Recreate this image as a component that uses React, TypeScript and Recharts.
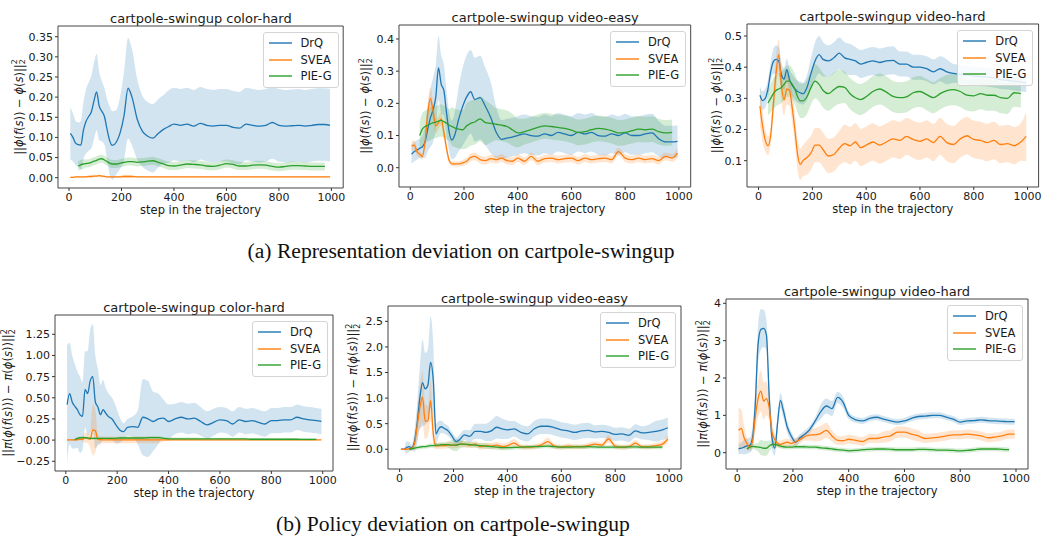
import { Area, ComposedChart, Label, Legend, Line, ReferenceArea, XAxis, YAxis } from "recharts"

type Num = number | null

// sampled steps along the trajectory (finer at the start where the curves move a lot)
const steps = [
  5, 15, 25, 35, 45, 55,
  65, 75, 85, 95, 105, 115, 125, 135, 145, 155, 165,
  180, 195, 210, 225, 240,
  260, 280, 300, 320, 340, 360, 380, 400,
  425, 450, 475, 500, 525, 550, 575, 600, 625, 650, 675, 700,
  725, 750, 775, 800, 825, 850, 875, 900, 925, 950, 975, 995,
]
const xTicks = [0, 200, 400, 600, 800, 1000]

// ---- (a) representation deviation, color-hard
const repColorDrq: Num[] = [
  0.11, 0.1, 0.086, 0.082, 0.081, 0.118,
  0.14, 0.152, 0.163, 0.19, 0.213, 0.178, 0.165, 0.152, 0.12, 0.092, 0.08,
  0.088, 0.112, 0.155, 0.222, 0.2,
  0.145, 0.115, 0.103, 0.098, 0.11, 0.12, 0.127, 0.133,
  0.13, 0.133, 0.128, 0.135, 0.13, 0.128, 0.13, 0.13, 0.125, 0.123, 0.133, 0.13,
  0.128, 0.13, 0.137, 0.13, 0.128, 0.129, 0.13, 0.128, 0.13, 0.132, 0.132, 0.13,
]
const repColorDrqSd: Num[] = [
  0.065, 0.06, 0.055, 0.055, 0.06, 0.07,
  0.08, 0.085, 0.09, 0.095, 0.095, 0.085, 0.075, 0.07, 0.075, 0.085, 0.085,
  0.08, 0.09, 0.11, 0.125, 0.12,
  0.1, 0.088, 0.085, 0.085, 0.085, 0.085, 0.09, 0.09,
  0.09, 0.09, 0.09, 0.09, 0.09, 0.09, 0.09, 0.09, 0.09, 0.09, 0.09, 0.09,
  0.09, 0.09, 0.09, 0.09, 0.09, 0.09, 0.09, 0.09, 0.09, 0.09, 0.09, 0.09,
]
const repColorSvea: Num[] = [
  0.001, 0.001, 0.002, 0.002, 0.002, 0.002,
  0.002, 0.003, 0.003, 0.004, 0.004, 0.005, 0.004, 0.003, 0.002, 0.002, 0.002,
  0.002, 0.002, 0.003, 0.003, 0.003,
  0.002, 0.002, 0.002, 0.002, 0.002, 0.002, 0.002, 0.002,
  0.002, 0.002, 0.002, 0.002, 0.002, 0.002, 0.002, 0.002, 0.002, 0.002, 0.002, 0.002,
  0.002, 0.002, 0.002, 0.002, 0.002, 0.002, 0.002, 0.002, 0.002, 0.002, 0.002, 0.002,
]
const repColorSveaSd: Num[] = [
  0.002, 0.002, 0.002, 0.002, 0.002, 0.002,
  0.002, 0.002, 0.003, 0.003, 0.003, 0.003, 0.003, 0.002, 0.002, 0.002, 0.002,
  0.002, 0.003, 0.004, 0.004, 0.003,
  0.0015, 0.0015, 0.0015, 0.0015, 0.0015, 0.0015, 0.0015, 0.0015,
  0.0015, 0.0015, 0.0015, 0.0015, 0.0015, 0.0015, 0.0015, 0.0015, 0.0015, 0.0015, 0.0015, 0.0015,
  0.0015, 0.0015, 0.0015, 0.0015, 0.0015, 0.0015, 0.0015, 0.0015, 0.0015, 0.0015, 0.0015, 0.0015,
]
const repColorPieg: Num[] = [
  null, null, null, 0.029, 0.032, 0.034,
  0.035, 0.036, 0.038, 0.041, 0.043, 0.046, 0.047, 0.044, 0.04, 0.036, 0.034,
  0.034, 0.036, 0.038, 0.04, 0.04,
  0.038, 0.039, 0.041, 0.042, 0.038, 0.034, 0.03, 0.029,
  0.031, 0.034, 0.033, 0.032, 0.029, 0.028, 0.031, 0.035, 0.033, 0.029, 0.029, 0.031,
  0.032, 0.031, 0.028, 0.026, 0.028, 0.03, 0.03, 0.029, 0.028, 0.028, 0.028, null,
]
const repColorPiegSd: Num[] = [
  null, null, null, 0.012, 0.012, 0.012,
  0.01, 0.01, 0.01, 0.01, 0.01, 0.01, 0.01, 0.01, 0.01, 0.01, 0.01,
  0.01, 0.01, 0.01, 0.01, 0.01,
  0.01, 0.01, 0.01, 0.01, 0.01, 0.01, 0.01, 0.01,
  0.01, 0.01, 0.01, 0.01, 0.01, 0.01, 0.01, 0.01, 0.01, 0.01, 0.01, 0.01,
  0.01, 0.01, 0.01, 0.01, 0.01, 0.01, 0.01, 0.01, 0.01, 0.01, 0.01, null,
]

// ---- (a) representation deviation, video-easy
const repEasyDrq: Num[] = [
  0.042, 0.05, 0.055, 0.06, 0.065, 0.08,
  0.12, 0.155, 0.18, 0.22, 0.31, 0.26, 0.24, 0.17, 0.11, 0.086, 0.1,
  0.15, 0.19, 0.22, 0.236, 0.212,
  0.218, 0.19, 0.155, 0.11, 0.088, 0.092, 0.095, 0.1,
  0.105, 0.1, 0.098, 0.105, 0.1, 0.11, 0.105, 0.1, 0.11, 0.105, 0.11, 0.1,
  0.098, 0.105, 0.1, 0.108, 0.1, 0.1, 0.105, 0.108, 0.09, 0.08, 0.08, 0.082,
]
const repEasyDrqSd: Num[] = [
  0.03, 0.03, 0.03, 0.03, 0.035, 0.05,
  0.07, 0.09, 0.1, 0.1, 0.1, 0.09, 0.08, 0.07, 0.06, 0.06, 0.07,
  0.1, 0.12, 0.13, 0.13, 0.13,
  0.13, 0.12, 0.11, 0.08, 0.06, 0.06, 0.06, 0.06,
  0.06, 0.06, 0.06, 0.06, 0.06, 0.06, 0.06, 0.06, 0.06, 0.06, 0.06, 0.06,
  0.06, 0.06, 0.06, 0.06, 0.06, 0.06, 0.06, 0.06, 0.055, 0.05, 0.05, 0.05,
]
const repEasySvea: Num[] = [
  0.068, 0.07, 0.05, 0.042, 0.035, 0.08,
  0.17, 0.215, 0.175, 0.13, 0.14, 0.152, 0.11, 0.06, 0.022, 0.012, 0.012,
  0.012, 0.015, 0.02, 0.032, 0.035,
  0.025, 0.022, 0.028, 0.025, 0.03, 0.022, 0.02, 0.03,
  0.02, 0.035, 0.02, 0.028, 0.03, 0.025, 0.028, 0.03, 0.022, 0.03, 0.025, 0.028,
  0.03, 0.025, 0.05, 0.03, 0.025, 0.03, 0.025, 0.028, 0.022, 0.035, 0.03, 0.045,
]
const repEasySveaSd: Num[] = [
  0.015, 0.015, 0.012, 0.01, 0.01, 0.02,
  0.03, 0.035, 0.03, 0.025, 0.02, 0.02, 0.02, 0.015, 0.01, 0.008, 0.008,
  0.008, 0.01, 0.01, 0.012, 0.012,
  0.012, 0.012, 0.012, 0.012, 0.012, 0.012, 0.012, 0.012,
  0.012, 0.012, 0.012, 0.012, 0.012, 0.012, 0.012, 0.012, 0.012, 0.012, 0.012, 0.012,
  0.012, 0.012, 0.012, 0.012, 0.012, 0.012, 0.012, 0.012, 0.012, 0.012, 0.012, 0.015,
]
const repEasyPieg: Num[] = [
  null, null, null, 0.1, 0.12, 0.128,
  0.132, 0.136, 0.14, 0.142, 0.145, 0.147, 0.143, 0.138, 0.132, 0.128, 0.124,
  0.12, 0.118, 0.13, 0.138, 0.142,
  0.152, 0.14, 0.138, 0.135, 0.132, 0.128, 0.118, 0.108,
  0.112, 0.118, 0.125, 0.13, 0.128, 0.125, 0.122, 0.117, 0.11, 0.112, 0.118, 0.122,
  0.12, 0.115, 0.108, 0.11, 0.115, 0.12, 0.118, 0.12, 0.112, 0.108, 0.11, null,
]
const repEasyPiegSd: Num[] = [
  null, null, null, 0.04, 0.05, 0.05,
  0.05, 0.05, 0.05, 0.05, 0.05, 0.05, 0.05, 0.05, 0.05, 0.06, 0.06,
  0.06, 0.06, 0.07, 0.07, 0.07,
  0.07, 0.07, 0.06, 0.05, 0.05, 0.05, 0.05, 0.045,
  0.04, 0.04, 0.04, 0.04, 0.04, 0.04, 0.04, 0.04, 0.04, 0.04, 0.04, 0.04,
  0.04, 0.04, 0.04, 0.04, 0.04, 0.04, 0.04, 0.04, 0.04, 0.04, 0.04, null,
]

// ---- (a) representation deviation, video-hard
const repHardDrq: Num[] = [
  0.31, 0.293, 0.3, 0.33, 0.385, 0.418,
  0.425, 0.42, 0.375, 0.362, 0.392, 0.36, 0.342, 0.33, 0.322, 0.318, 0.315,
  0.335, 0.38, 0.42, 0.44, 0.425,
  0.42, 0.43, 0.445, 0.43, 0.425, 0.42, 0.41, 0.415,
  0.42, 0.415, 0.42, 0.422, 0.41, 0.41, 0.4, 0.4, 0.395, 0.385, 0.395, 0.385,
  0.38, 0.377, 0.375, 0.372, 0.37, 0.368, 0.365, 0.36, 0.358, 0.355, 0.352, 0.35,
]
const repHardDrqSd: Num[] = [
  0.03, 0.03, 0.03, 0.03, 0.03, 0.04,
  0.045, 0.045, 0.04, 0.035, 0.035, 0.035, 0.035, 0.035, 0.035, 0.035, 0.035,
  0.04, 0.05, 0.06, 0.06, 0.055,
  0.05, 0.05, 0.05, 0.05, 0.05, 0.045, 0.045, 0.045,
  0.045, 0.045, 0.045, 0.045, 0.04, 0.04, 0.04, 0.04, 0.04, 0.04, 0.04, 0.04,
  0.03, 0.03, 0.03, 0.03, 0.03, 0.03, 0.03, 0.03, 0.03, 0.03, 0.03, 0.03,
]
const repHardSvea: Num[] = [
  0.275, 0.21, 0.165, 0.148, 0.18, 0.28,
  0.38, 0.44, 0.34, 0.295, 0.33, 0.325, 0.27, 0.2, 0.12, 0.088, 0.1,
  0.11, 0.125, 0.15, 0.15, 0.135,
  0.115, 0.12, 0.14, 0.155, 0.148, 0.16, 0.142, 0.15,
  0.16, 0.15, 0.16, 0.17, 0.165, 0.178, 0.168, 0.162, 0.17, 0.158, 0.178, 0.158,
  0.152, 0.17, 0.18, 0.168, 0.165, 0.158, 0.165, 0.152, 0.155, 0.148, 0.16, 0.178,
]
const repHardSveaSd: Num[] = [
  0.06, 0.05, 0.035, 0.03, 0.03, 0.045,
  0.05, 0.05, 0.05, 0.05, 0.05, 0.05, 0.05, 0.05, 0.05, 0.05, 0.05,
  0.055, 0.055, 0.055, 0.055, 0.055,
  0.055, 0.055, 0.055, 0.06, 0.06, 0.06, 0.06, 0.06,
  0.06, 0.06, 0.06, 0.06, 0.06, 0.06, 0.06, 0.06, 0.06, 0.06, 0.06, 0.06,
  0.06, 0.06, 0.06, 0.06, 0.06, 0.06, 0.06, 0.06, 0.06, 0.06, 0.06, 0.08,
]
const repHardPieg: Num[] = [
  null, null, null, 0.285, 0.3, 0.315,
  0.325, 0.33, 0.335, 0.345, 0.355, 0.355, 0.345, 0.33, 0.305, 0.292, 0.292,
  0.305, 0.335, 0.355, 0.345, 0.325,
  0.315, 0.328, 0.338, 0.335, 0.315, 0.302, 0.296, 0.305,
  0.322, 0.33, 0.32, 0.306, 0.302, 0.305, 0.318, 0.322, 0.312, 0.302, 0.315, 0.325,
  0.328, 0.322, 0.31, 0.308, 0.315, 0.31, 0.31, 0.302, 0.3, 0.318, 0.315, null,
]
const repHardPiegSd: Num[] = [
  null, null, null, 0.04, 0.045, 0.05,
  0.05, 0.05, 0.05, 0.05, 0.05, 0.05, 0.05, 0.05, 0.05, 0.055, 0.055,
  0.055, 0.055, 0.055, 0.055, 0.055,
  0.055, 0.055, 0.055, 0.05, 0.05, 0.05, 0.05, 0.05,
  0.05, 0.05, 0.05, 0.05, 0.05, 0.05, 0.05, 0.05, 0.05, 0.05, 0.05, 0.05,
  0.05, 0.05, 0.05, 0.05, 0.05, 0.05, 0.05, 0.05, 0.05, 0.045, 0.045, null,
]

// ---- (b) policy deviation, color-hard
const polColorDrq: Num[] = [
  0.42, 0.55, 0.45, 0.4, 0.36, 0.3,
  0.28, 0.6, 0.55, 0.7, 0.75, 0.45, 0.39, 0.3, 0.36, 0.32, 0.28,
  0.25, 0.18, 0.12, 0.1, 0.15,
  0.16, 0.15, 0.27, 0.25, 0.22, 0.25, 0.26, 0.22,
  0.25, 0.27, 0.25, 0.26, 0.22, 0.18, 0.21, 0.24, 0.23, 0.19, 0.24, 0.22,
  0.23, 0.21, 0.19, 0.23, 0.23, 0.24, 0.24, 0.27, 0.25, 0.24, 0.23, 0.22,
]
const polColorDrqSd: Num[] = [
  0.7, 0.6, 0.55, 0.5, 0.45, 0.45,
  0.4, 0.45, 0.5, 0.6, 0.62, 0.55, 0.45, 0.35, 0.35, 0.3, 0.28,
  0.25, 0.22, 0.15, 0.1, 0.1,
  0.12, 0.2, 0.45, 0.45, 0.35, 0.3, 0.22, 0.2,
  0.18, 0.18, 0.18, 0.18, 0.17, 0.16, 0.16, 0.15, 0.15, 0.15, 0.15, 0.15,
  0.15, 0.15, 0.15, 0.15, 0.15, 0.15, 0.15, 0.15, 0.15, 0.15, 0.15, 0.15,
]
const polColorSvea: Num[] = [
  0.003, 0.003, 0.003, 0.003, 0.005, 0.008,
  0.01, 0.03, 0.02, 0.01, 0.12, 0.11, 0.01, 0.005, 0.003, 0.003, 0.003,
  0.003, 0.003, 0.003, 0.003, 0.003,
  0.003, 0.003, 0.003, 0.003, 0.003, 0.003, 0.003, 0.003,
  0.002, 0.002, 0.002, 0.002, 0.002, 0.002, 0.002, 0.002, 0.002, 0.002, 0.002, 0.002,
  0.002, 0.002, 0.002, 0.002, 0.002, 0.002, 0.002, 0.002, 0.002, 0.002, 0.002, 0.002,
]
const polColorSveaSd: Num[] = [
  0.01, 0.01, 0.01, 0.01, 0.01, 0.01,
  0.03, 0.06, 0.05, 0.1, 0.3, 0.25, 0.05, 0.04, 0.04, 0.04, 0.04,
  0.04, 0.04, 0.04, 0.04, 0.04,
  0.04, 0.04, 0.04, 0.04, 0.04, 0.04, 0.02, 0.01,
  0.005, 0.005, 0.005, 0.005, 0.005, 0.005, 0.005, 0.005, 0.005, 0.005, 0.005, 0.005,
  0.005, 0.005, 0.005, 0.005, 0.005, 0.005, 0.005, 0.005, 0.005, 0.005, 0.005, 0.005,
]
const polColorPieg: Num[] = [
  null, null, null, 0.005, 0.02, 0.028,
  0.03, 0.028, 0.025, 0.022, 0.02, 0.02, 0.02, 0.02, 0.02, 0.02, 0.02,
  0.02, 0.02, 0.025, 0.025, 0.025,
  0.025, 0.025, 0.025, 0.028, 0.03, 0.03, 0.022, 0.015,
  0.015, 0.015, 0.015, 0.015, 0.014, 0.014, 0.014, 0.014, 0.014, 0.014, 0.014, 0.014,
  0.01, 0.01, 0.01, 0.01, 0.01, 0.01, 0.01, 0.01, 0.008, 0.008, 0.008, null,
]
const polColorPiegSd: Num[] = [
  null, null, null, 0.015, 0.015, 0.015,
  0.015, 0.015, 0.015, 0.015, 0.015, 0.015, 0.015, 0.015, 0.015, 0.015, 0.015,
  0.015, 0.015, 0.015, 0.015, 0.015,
  0.015, 0.015, 0.015, 0.015, 0.015, 0.015, 0.015, 0.015,
  0.015, 0.015, 0.015, 0.015, 0.015, 0.015, 0.015, 0.015, 0.015, 0.015, 0.015, 0.015,
  0.015, 0.015, 0.015, 0.015, 0.015, 0.015, 0.015, 0.015, 0.015, 0.015, 0.015, null,
]

// ---- (b) policy deviation, video-easy
const polEasyDrq: Num[] = [
  0.0, 0.0, 0.03, 0.05, 0.03, 0.15,
  0.5, 1.0, 1.3, 1.18, 1.25, 1.7, 1.35, 0.3, 0.4, 0.44, 0.41,
  0.36, 0.25, 0.15, 0.2, 0.28,
  0.25, 0.35, 0.35, 0.33, 0.36, 0.43, 0.4, 0.38,
  0.4, 0.33, 0.3, 0.4, 0.45, 0.45, 0.42, 0.38, 0.36, 0.33, 0.36, 0.37,
  0.34, 0.35, 0.33, 0.29, 0.3, 0.27, 0.36, 0.32, 0.33, 0.35, 0.38, 0.42,
]
const polEasyDrqSd: Num[] = [
  0.0, 0.0, 0.12, 0.1, 0.05, 0.2,
  0.4, 0.6, 0.85, 0.7, 0.7, 0.9, 0.7, 0.2, 0.15, 0.12, 0.1,
  0.1, 0.08, 0.08, 0.1, 0.1,
  0.12, 0.15, 0.15, 0.17, 0.2, 0.22, 0.2, 0.18,
  0.15, 0.15, 0.15, 0.15, 0.15, 0.15, 0.15, 0.15, 0.15, 0.15, 0.15, 0.15,
  0.13, 0.13, 0.13, 0.13, 0.13, 0.13, 0.13, 0.13, 0.15, 0.2, 0.2, 0.2,
]
const polEasySvea: Num[] = [
  0.0, 0.0, 0.0, 0.01, 0.02, 0.1,
  0.45, 0.8, 1.02, 0.55, 0.55, 0.95, 0.3, 0.06, 0.07, 0.07, 0.07,
  0.08, 0.08, 0.08, 0.1, 0.1,
  0.08, 0.1, 0.05, 0.07, 0.06, 0.08, 0.05, 0.07,
  0.12, 0.05, 0.04, 0.05, 0.08, 0.15, 0.06, 0.04, 0.06, 0.05, 0.05, 0.07,
  0.1, 0.08, 0.2, 0.06, 0.04, 0.05, 0.12, 0.05, 0.05, 0.07, 0.1, 0.2,
]
const polEasySveaSd: Num[] = [
  0.0, 0.0, 0.02, 0.03, 0.05, 0.1,
  0.25, 0.4, 0.5, 0.35, 0.3, 0.4, 0.2, 0.06, 0.06, 0.06, 0.06,
  0.06, 0.06, 0.06, 0.06, 0.06,
  0.06, 0.06, 0.06, 0.06, 0.06, 0.06, 0.06, 0.06,
  0.08, 0.05, 0.05, 0.05, 0.05, 0.08, 0.05, 0.05, 0.05, 0.05, 0.05, 0.05,
  0.05, 0.05, 0.08, 0.05, 0.05, 0.05, 0.06, 0.05, 0.05, 0.05, 0.06, 0.08,
]
const polEasyPieg: Num[] = [
  null, null, null, 0.0, 0.01, 0.02,
  0.03, 0.04, 0.05, 0.05, 0.06, 0.07, 0.07, 0.08, 0.08, 0.09, 0.09,
  0.09, 0.08, 0.08, 0.1, 0.1,
  0.09, 0.08, 0.07, 0.06, 0.05, 0.04, 0.03, 0.03,
  0.035, 0.04, 0.045, 0.05, 0.055, 0.06, 0.05, 0.04, 0.04, 0.045, 0.045, 0.05,
  0.045, 0.04, 0.04, 0.04, 0.04, 0.045, 0.045, 0.04, 0.04, 0.04, 0.04, null,
]
const polEasyPiegSd: Num[] = [
  null, null, null, 0.02, 0.03, 0.03,
  0.04, 0.04, 0.04, 0.04, 0.04, 0.04, 0.04, 0.04, 0.04, 0.04, 0.04,
  0.06, 0.1, 0.12, 0.08, 0.06,
  0.05, 0.05, 0.05, 0.05, 0.05, 0.05, 0.05, 0.05,
  0.04, 0.04, 0.04, 0.04, 0.04, 0.04, 0.04, 0.04, 0.04, 0.04, 0.04, 0.04,
  0.04, 0.04, 0.04, 0.04, 0.04, 0.04, 0.04, 0.04, 0.04, 0.04, 0.04, null,
]

// ---- (b) policy deviation, video-hard
const polHardDrq: Num[] = [
  0.1, 0.12, 0.15, 0.18, 0.2, 0.4,
  1.3, 2.9, 3.3, 3.33, 3.15, 1.5, 0.4, 0.12, 0.8, 1.4, 1.15,
  0.68, 0.43, 0.28, 0.4, 0.48,
  0.62, 0.85, 1.1, 1.25, 1.18, 1.48, 1.35, 1.0,
  0.88, 0.85, 0.92, 0.95, 0.9, 0.85, 0.82, 0.85, 0.92, 0.97, 0.98, 1.0,
  1.0, 0.95, 0.9, 0.82, 0.85, 0.86, 0.88, 0.86, 0.85, 0.84, 0.83, 0.83,
]
const polHardDrqSd: Num[] = [
  0.15, 0.15, 0.2, 0.2, 0.2, 0.3,
  0.4, 0.5, 0.55, 0.5, 0.4, 0.35, 0.3, 0.2, 0.2, 0.2, 0.2,
  0.15, 0.12, 0.1, 0.1, 0.1,
  0.1, 0.1, 0.2, 0.2, 0.2, 0.15, 0.15, 0.1,
  0.08, 0.08, 0.08, 0.08, 0.08, 0.08, 0.08, 0.08, 0.08, 0.08, 0.08, 0.08,
  0.08, 0.08, 0.08, 0.08, 0.08, 0.08, 0.08, 0.08, 0.08, 0.08, 0.08, 0.08,
]
const polHardSvea: Num[] = [
  0.6, 0.65, 0.4, 0.25, 0.15, 0.3,
  0.95, 1.45, 1.65, 1.38, 1.45, 1.2, 0.55, 0.35, 0.25, 0.22, 0.25,
  0.28, 0.25, 0.3, 0.35, 0.42,
  0.47, 0.48, 0.52, 0.6, 0.45, 0.33, 0.32, 0.36,
  0.33, 0.3, 0.38, 0.38, 0.42, 0.45, 0.55, 0.55, 0.5, 0.45, 0.38, 0.4,
  0.42, 0.45, 0.48, 0.48, 0.5, 0.48, 0.45, 0.4, 0.42, 0.45, 0.5, 0.5,
]
const polHardSveaSd: Num[] = [
  0.6, 0.5, 0.3, 0.15, 0.1, 0.2,
  0.35, 0.5, 0.55, 0.5, 0.45, 0.35, 0.25, 0.15, 0.1, 0.1, 0.1,
  0.1, 0.1, 0.1, 0.1, 0.1,
  0.15, 0.18, 0.2, 0.2, 0.15, 0.12, 0.12, 0.12,
  0.12, 0.12, 0.12, 0.12, 0.15, 0.15, 0.15, 0.15, 0.15, 0.15, 0.12, 0.12,
  0.12, 0.12, 0.12, 0.12, 0.12, 0.12, 0.12, 0.12, 0.12, 0.12, 0.12, 0.12,
]
const polHardPieg: Num[] = [
  null, null, null, 0.1, 0.15, 0.17,
  0.16, 0.15, 0.14, 0.12, 0.12, 0.18, 0.22, 0.22, 0.2, 0.18, 0.16,
  0.15, 0.15, 0.16, 0.16, 0.16,
  0.15, 0.15, 0.13, 0.12, 0.1, 0.08, 0.07, 0.05,
  0.06, 0.08, 0.09, 0.1, 0.1, 0.09, 0.08, 0.08, 0.08, 0.09, 0.09, 0.08,
  0.07, 0.07, 0.06, 0.05, 0.06, 0.08, 0.1, 0.1, 0.1, 0.09, 0.08, null,
]
const polHardPiegSd: Num[] = [
  null, null, null, 0.05, 0.06, 0.06,
  0.08, 0.12, 0.2, 0.2, 0.2, 0.15, 0.1, 0.08, 0.06, 0.06, 0.06,
  0.06, 0.06, 0.06, 0.06, 0.06,
  0.06, 0.06, 0.06, 0.06, 0.06, 0.06, 0.06, 0.06,
  0.06, 0.06, 0.06, 0.06, 0.06, 0.06, 0.06, 0.06, 0.06, 0.06, 0.06, 0.06,
  0.06, 0.06, 0.06, 0.06, 0.06, 0.06, 0.06, 0.06, 0.06, 0.06, 0.06, null,
]

const seriesKeys = ["drq", "svea", "pieg"]
const seriesNames = ["DrQ", "SVEA", "PIE-G"]
const seriesColors = ["#1f77b4", "#ff7f0e", "#2ca02c"]

function buildRows(means: Num[][], sds: Num[][]) {
  return steps.map((step, i) => {
    const row: Record<string, any> = { step }
    seriesKeys.forEach((key, s) => {
      const m = means[s][i]
      const sd = sds[s][i]
      row[key] = m
      row[key + "Band"] = m == null || sd == null ? null : [m - sd, m + sd]
    })
    return row
  })
}

type Frame = { x: number; y: number; w: number; h: number }
type PanelSpec = {
  title: string
  frame: Frame
  xDomain: [number, number]
  yDomain: [number, number]
  yTicks: number[]
  digits: number
  labelGap: number
  kind: "repr" | "policy"
  rows: Record<string, any>[]
}

const AXIS_W = 60
const PAD = 2
const RIGHT = 20
const XAXIS_H = 34
const LEGEND_W = 76
const TEXT = "#1a1a1a"

const mathParts = {
  repr: [
    ["||", 0], ["\u03d5", 1], ["(", 0], ["f", 1], ["(", 0], ["s", 1], ["))", 0], [" \u2212 ", 0],
    ["\u03d5", 1], ["(", 0], ["s", 1], [")||", 0],
  ],
  policy: [
    ["||", 0], ["\u03c0", 1], ["(", 0], ["\u03d5", 1], ["(", 0], ["f", 1], ["(", 0], ["s", 1], [")))", 0],
    [" \u2212 ", 0], ["\u03c0", 1], ["(", 0], ["\u03d5", 1], ["(", 0], ["s", 1], ["))||", 0],
  ],
} as const

function MathYLabel({ kind, cx, cy }: { kind: "repr" | "policy"; cx: number; cy: number }) {
  return (
    <text
      x={cx}
      y={cy}
      transform={`rotate(-90 ${cx} ${cy})`}
      textAnchor="middle"
      dominantBaseline="central"
      fontSize={11.5}
      fill={TEXT}
    >
      {mathParts[kind].map(([t, it], i) => (
        <tspan key={i} fontStyle={it ? "italic" : "normal"}>
          {t}
        </tspan>
      ))}
      <tspan fontSize={8} dy={-4.5}>
        2
      </tspan>
      <tspan fontSize={8} dx={-5} dy={8}>
        2
      </tspan>
    </text>
  )
}

function LegendBox() {
  return (
    <div
      style={{
        width: LEGEND_W,
        boxSizing: "border-box",
        border: "1px solid #d4d4d4",
        borderRadius: 3,
        background: "rgba(255,255,255,0.85)",
        padding: "2px 3px 2px 4px",
        fontSize: 11.5,
        color: TEXT,
        whiteSpace: "nowrap",
      }}
    >
      {seriesNames.map((name, i) => (
        <div key={name} style={{ display: "flex", alignItems: "center", height: 16.7 }}>
          <svg width={24} height={4} style={{ marginLeft: 1, flex: "none" }}>
            <line x1={0} y1={2} x2={23} y2={2} stroke={seriesColors[i]} strokeWidth={1.4} />
          </svg>
          <span style={{ marginLeft: 8, lineHeight: "12px", whiteSpace: "nowrap" }}>{name}</span>
        </div>
      ))}
    </div>
  )
}

function Panel({ spec }: { spec: PanelSpec }) {
  const { frame, xDomain, yDomain, yTicks, digits, labelGap, kind, rows, title } = spec
  const fmt = (v: number) => (v < 0 ? "\u2212" : "") + Math.abs(v).toFixed(digits)
  const tickStyle = { fontSize: 11, fill: TEXT }
  return (
    <>
      <div
        style={{
          position: "absolute",
          left: frame.x + frame.w / 2,
          top: frame.y - 3 - 11,
          transform: "translateX(-50%)",
          fontSize: 13,
          lineHeight: "13px",
          whiteSpace: "nowrap",
          color: TEXT,
        }}
      >
        {title}
      </div>
      <div style={{ position: "absolute", left: frame.x - AXIS_W, top: frame.y - PAD }}>
        <ComposedChart
          width={AXIS_W + frame.w + RIGHT}
          height={PAD + frame.h + XAXIS_H}
          data={rows}
          margin={{ top: PAD, right: RIGHT, bottom: 0, left: 0 }}
        >
          <XAxis
            dataKey="step"
            type="number"
            domain={xDomain}
            ticks={xTicks}
            interval={0}
            allowDataOverflow
            height={XAXIS_H}
            axisLine={false}
            tickSize={3}
            tickLine={{ stroke: "#333" }}
            tick={tickStyle}
          >
            <Label
              content={() => (
                <text x={AXIS_W + frame.w / 2} y={PAD + frame.h + 26} textAnchor="middle" fontSize={11.5} fill={TEXT}>
                  step in the trajectory
                </text>
              )}
            />
          </XAxis>
          <YAxis
            type="number"
            domain={yDomain}
            ticks={yTicks}
            interval={0}
            allowDataOverflow
            width={AXIS_W}
            axisLine={false}
            tickSize={3}
            tickLine={{ stroke: "#333" }}
            tick={tickStyle}
            tickFormatter={fmt}
          >
            <Label content={() => <MathYLabel kind={kind} cx={AXIS_W - labelGap} cy={PAD + frame.h / 2} />} />
          </YAxis>
          {seriesKeys.map((key, i) => [
            <Line
              key={key}
              type="monotone"
              dataKey={key}
              stroke={seriesColors[i]}
              strokeWidth={1.3}
              dot={false}
              activeDot={false}
              isAnimationActive={false}
            />,
            <Area
              key={key + "Band"}
              type="monotone"
              dataKey={key + "Band"}
              stroke="none"
              fill={seriesColors[i]}
              fillOpacity={0.2}
              dot={false}
              activeDot={false}
              isAnimationActive={false}
            />,
          ])}
          <ReferenceArea
            x1={xDomain[0]}
            x2={xDomain[1]}
            y1={yDomain[0]}
            y2={yDomain[1]}
            fill="none"
            stroke="#444"
            strokeWidth={1}
          />
          <Legend
            layout="horizontal"
            align="center"
            verticalAlign="middle"
            wrapperStyle={{ left: AXIS_W + frame.w - 5 - LEGEND_W, top: PAD + 5.5, width: LEGEND_W }}
            content={() => <LegendBox />}
          />
        </ComposedChart>
      </div>
    </>
  )
}

const panels: PanelSpec[] = [
  {
    title: "cartpole-swingup color-hard",
    frame: { x: 58.3, y: 26, w: 285.2, h: 162 },
    xDomain: [-42, 1045],
    yDomain: [-0.0256, 0.3766],
    yTicks: [0, 0.05, 0.1, 0.15, 0.2, 0.25, 0.3, 0.35],
    digits: 2,
    labelGap: 39,
    kind: "repr",
    rows: buildRows([repColorDrq, repColorSvea, repColorPieg], [repColorDrqSd, repColorSveaSd, repColorPiegSd]),
  },
  {
    title: "cartpole-swingup video-easy",
    frame: { x: 399.3, y: 25, w: 291.7, h: 162 },
    xDomain: [-42, 1044],
    yDomain: [-0.06, 0.4435],
    yTicks: [0, 0.1, 0.2, 0.3, 0.4],
    digits: 1,
    labelGap: 33.6,
    kind: "repr",
    rows: buildRows([repEasyDrq, repEasySvea, repEasyPieg], [repEasyDrqSd, repEasySveaSd, repEasyPiegSd]),
  },
  {
    title: "cartpole-swingup video-hard",
    frame: { x: 746.7, y: 24, w: 291.6, h: 163 },
    xDomain: [-43, 1041],
    yDomain: [0.0156, 0.5385],
    yTicks: [0.1, 0.2, 0.3, 0.4, 0.5],
    digits: 1,
    labelGap: 31,
    kind: "repr",
    rows: buildRows([repHardDrq, repHardSvea, repHardPieg], [repHardDrqSd, repHardSveaSd, repHardPiegSd]),
  },
  {
    title: "cartpole-swingup color-hard",
    frame: { x: 55, y: 315, w: 278, h: 156 },
    xDomain: [-42, 1040],
    yDomain: [-0.365, 1.478],
    yTicks: [-0.25, 0, 0.25, 0.5, 0.75, 1, 1.25],
    digits: 2,
    labelGap: 47,
    kind: "policy",
    rows: buildRows([polColorDrq, polColorSvea, polColorPieg], [polColorDrqSd, polColorSveaSd, polColorPiegSd]),
  },
  {
    title: "cartpole-swingup video-easy",
    frame: { x: 388, y: 306, w: 293, h: 163 },
    xDomain: [-43, 1044],
    yDomain: [-0.386, 2.8],
    yTicks: [0, 0.5, 1, 1.5, 2, 2.5],
    digits: 1,
    labelGap: 35,
    kind: "policy",
    rows: buildRows([polEasyDrq, polEasySvea, polEasyPieg], [polEasyDrqSd, polEasySveaSd, polEasyPiegSd]),
  },
  {
    title: "cartpole-swingup video-hard",
    frame: { x: 726, y: 299, w: 302, h: 170 },
    xDomain: [-40, 1043],
    yDomain: [-0.436, 4.115],
    yTicks: [0, 1, 2, 3, 4],
    digits: 0,
    labelGap: 23,
    kind: "policy",
    rows: buildRows([polHardDrq, polHardSvea, polHardPieg], [polHardDrqSd, polHardSveaSd, polHardPiegSd]),
  },
]

const captionStyle = {
  position: "absolute" as const,
  transform: "translateX(-50%)",
  fontFamily: "'Liberation Serif', serif",
  fontSize: 21.6,
  lineHeight: "21.6px",
  whiteSpace: "nowrap" as const,
  color: "#111",
}

export default function App() {
  return (
    <div
      style={{
        position: "absolute",
        left: 0,
        top: 0,
        width: 1042,
        height: 544,
        overflow: "hidden",
        background: "#fff",
        fontFamily: "'DejaVu Sans', sans-serif",
      }}
    >
      {panels.map((p, i) => (
        <Panel key={i} spec={p} />
      ))}
      <div style={{ ...captionStyle, left: 461, top: 241 }}>(a) Representation deviation on cartpole-swingup</div>
      <div style={{ ...captionStyle, left: 453, top: 513.6 }}>(b) Policy deviation on cartpole-swingup</div>
    </div>
  )
}
